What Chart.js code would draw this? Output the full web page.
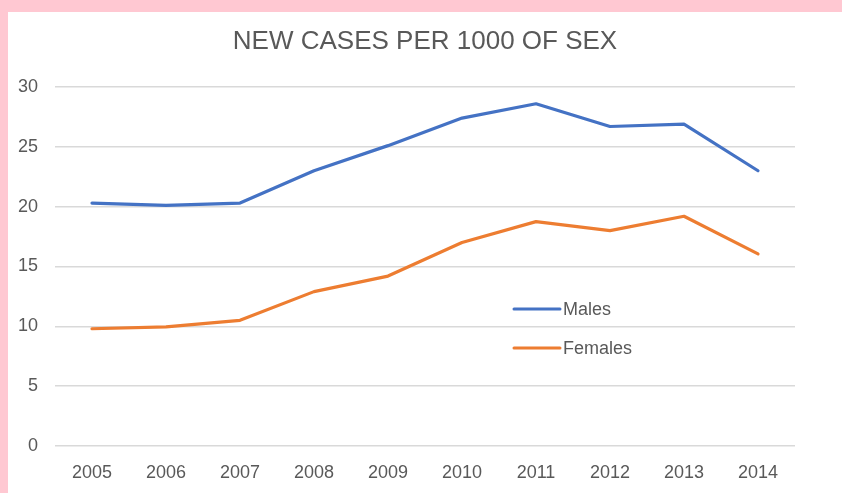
<!DOCTYPE html>
<html><head><meta charset="utf-8">
<script src="https://cdn.jsdelivr.net/npm/chart.js@4.4.1/dist/chart.umd.min.js"></script>
<style>
html,body{margin:0;padding:0;background:#ffc8d2;}
#wrap{position:absolute;left:8px;top:12px;width:834px;height:481px;background:#fff;}
canvas{display:block;}
</style></head><body>
<div id="wrap"><canvas id="c" width="834" height="481"></canvas></div>
<script>
const years = ['2005','2006','2007','2008','2009','2010','2011','2012','2013','2014'];
const males = [20.3, 20.1, 20.3, 23.0, 25.1, 27.4, 28.6, 26.7, 26.9, 23.0];
const females = [9.8, 9.95, 10.5, 12.9, 14.2, 17.0, 18.75, 18.0, 19.2, 16.05];
const seriesNames = ['Males','Females'];
const colors = ['#4472c4','#ed7d31'];
const FONT = "'Liberation Sans', Arial, sans-serif";

const legendPlugin = {
  id:'customLegend',
  afterDraw(chart){
    const ctx = chart.ctx;
    const items = [{n:seriesNames[0],c:colors[0],y:297},{n:seriesNames[1],c:colors[1],y:336}];
    ctx.save();
    items.forEach(it=>{
      ctx.strokeStyle = it.c; ctx.lineWidth = 3; ctx.lineCap='round';
      ctx.beginPath(); ctx.moveTo(506,it.y); ctx.lineTo(552,it.y); ctx.stroke();
      ctx.fillStyle = '#595959'; ctx.font = "18px "+FONT; ctx.textBaseline='middle';
      ctx.fillText(it.n, 555, it.y+1);
    });
    ctx.restore();
  }
};

new Chart(document.getElementById('c'), {
  type:'line',
  data:{labels:years, datasets:[
    {label:seriesNames[0], data:males, borderColor:colors[0], backgroundColor:colors[0], borderWidth:3.2, pointRadius:0, tension:0, borderJoinStyle:'round', borderCapStyle:'round'},
    {label:seriesNames[1], data:females, borderColor:colors[1], backgroundColor:colors[1], borderWidth:3.2, pointRadius:0, tension:0, borderJoinStyle:'round', borderCapStyle:'round'}
  ]},
  options:{
    responsive:false, animation:false,
    layout:{padding:{left:0,right:0,top:0,bottom:0}},
    plugins:{
      legend:{display:false},
      tooltip:{enabled:false},
      title:{display:true, text:'NEW CASES PER 1000 OF SEX', color:'#595959', font:{family:FONT, size:26, weight:'normal', lineHeight:1.2}, padding:{top:14,bottom:29.8}}
    },
    scales:{
      x:{offset:true, grid:{display:false, drawTicks:false}, border:{display:false},
         ticks:{color:'#595959', font:{family:FONT,size:18}, padding:16, maxRotation:0, autoSkip:false},
         afterFit(s){ s.height = 47; }},
      y:{min:0,max:30, ticks:{stepSize:5, color:'#595959', font:{family:FONT,size:18}, padding:17},
         grid:{color:'#d9d9d9', lineWidth:1.5, drawTicks:false}, border:{display:false},
         afterFit(s){ s.width = 47; }},
      yRight:{position:'right', min:0, max:30, display:true, grid:{display:false, drawTicks:false}, border:{display:false},
         ticks:{display:false}, afterFit(s){ s.width = 47; }}
    }
  },
  plugins:[legendPlugin]
});
</script>
</body></html>
